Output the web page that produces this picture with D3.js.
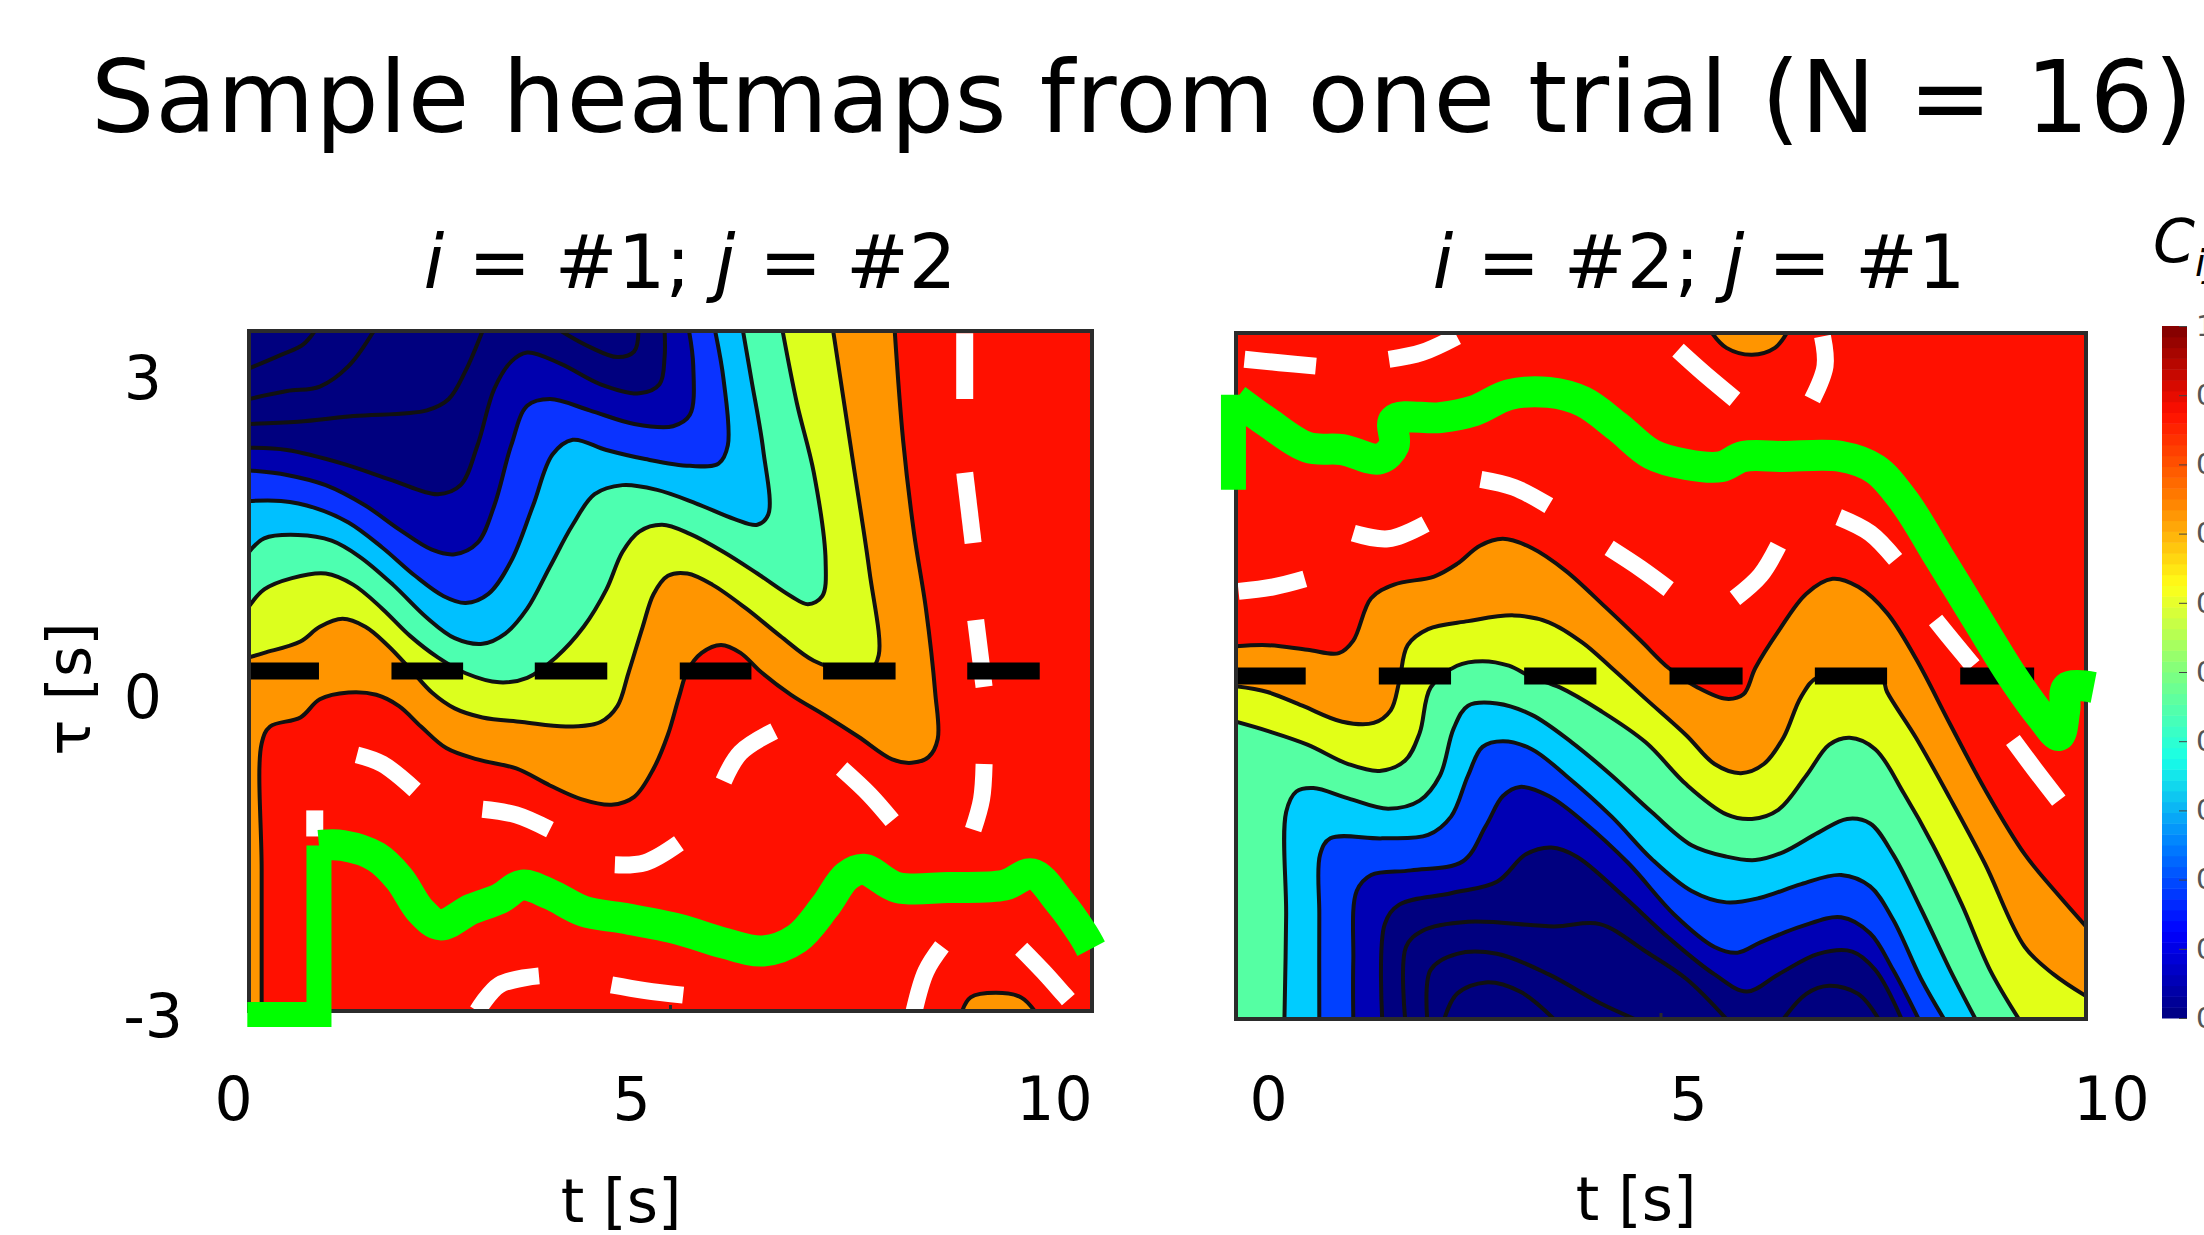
<!DOCTYPE html>
<html>
<head>
<meta charset="utf-8">
<title>Sample heatmaps</title>
<script src="https://cdn.jsdelivr.net/npm/d3@7"></script>
<style>
	html, body { margin: 0; padding: 0; background: #fff; overflow: hidden; }
	text { font-family: "DejaVu Sans", sans-serif; fill: #000; }
</style>
</head>
<body>
<div id="chart"></div>
<script>
// ********** DATA ([t, tau]) **********

const xTicks = [0, 5, 10];
const yTicks = [3, 0, -3];
const colorbarTicks = [0, 0.1, 0.2, 0.3, 0.4, 0.5, 0.6, 0.7, 0.8, 0.9, 1];
const jetStops = ["#00007f", "#0000ff", "#007fff", "#19ffe6", "#7fff7f", "#ffff19", "#ff7f00", "#ff0f00", "#7f0000"];

// left panel, i = #1; j = #2
const orangeA = [[0.15,-3],[0.15,-1.75],[0.15,-0.64],[0.25,-0.49],[0.61,-0.41],[0.84,-0.25],[1.18,-0.19],[1.51,-0.21],[1.78,-0.31],[2.04,-0.49],[2.34,-0.68],[2.71,-0.78],[3.17,-0.86],[3.57,-1.01],[3.94,-1.13],[4.30,-1.18],[4.57,-1.11],[4.80,-0.86],[4.97,-0.56],[5.10,-0.23],[5.20,0],[5.37,0.16],[5.60,0.23],[5.83,0.16],[6.06,0],[6.43,-0.21],[6.83,-0.39],[7.23,-0.58],[7.63,-0.78],[7.86,-0.81],[8.06,-0.76],[8.17,-0.60],[8.14,-0.19],[8.03,0.55],[7.89,1.21],[7.76,2.03],[7.66,3]];
const islandA = [[8.46,-3],[8.56,-2.88],[8.86,-2.84],[9.16,-2.88],[9.32,-3]];
const yellowA = [[0,0.12],[0.18,0.16],[0.61,0.26],[0.84,0.39],[1.11,0.46],[1.38,0.39],[1.64,0.23],[1.91,0.02],[2.17,-0.19],[2.44,-0.33],[2.77,-0.41],[3.24,-0.45],[3.77,-0.49],[4.17,-0.45],[4.37,-0.31],[4.50,-0.02],[4.67,0.39],[4.80,0.68],[4.97,0.84],[5.20,0.86],[5.50,0.76],[5.90,0.55],[6.30,0.31],[6.70,0.09],[7.09,0],[7.36,0],[7.47,0.14],[7.36,0.88],[7.16,1.87],[6.93,3]];
const greenA = [[0,0.57],[0.18,0.72],[0.51,0.82],[0.91,0.86],[1.24,0.76],[1.58,0.55],[1.91,0.31],[2.24,0.12],[2.57,-0.02],[2.97,-0.10],[3.30,-0.06],[3.64,0.12],[3.97,0.39],[4.24,0.72],[4.43,1.05],[4.63,1.23],[4.90,1.29],[5.23,1.21],[5.63,1.05],[6.03,0.86],[6.43,0.66],[6.63,0.59],[6.80,0.66],[6.84,0.97],[6.70,1.75],[6.50,2.36],[6.33,3]];
const cyanA = [[0,1.05],[0.18,1.17],[0.58,1.20],[0.98,1.15],[1.31,1.01],[1.71,0.76],[2.11,0.47],[2.44,0.29],[2.77,0.24],[3.04,0.33],[3.30,0.55],[3.57,0.92],[3.84,1.29],[4.10,1.56],[4.43,1.64],[4.83,1.60],[5.30,1.48],[5.76,1.34],[6.03,1.29],[6.16,1.38],[6.10,1.95],[5.96,2.57],[5.86,3]];
const blueA = [[0,1.50],[0.38,1.50],[0.78,1.44],[1.18,1.31],[1.58,1.09],[1.97,0.84],[2.31,0.66],[2.57,0.60],[2.84,0.68],[3.11,0.97],[3.37,1.46],[3.60,1.91],[3.84,2.04],[4.24,1.95],[4.70,1.87],[5.23,1.81],[5.57,1.83],[5.68,1.99],[5.63,2.57],[5.53,3]];
const darkA = [[0,1.77],[0.45,1.73],[0.91,1.64],[1.38,1.46],[1.78,1.25],[2.17,1.07],[2.44,1.03],[2.71,1.13],[2.91,1.46],[3.11,1.99],[3.30,2.34],[3.57,2.40],[4.04,2.30],[4.57,2.18],[5.03,2.16],[5.23,2.26],[5.27,2.69],[5.22,3]];
const navyA = [[0,1.97],[0.45,1.95],[1.11,1.83],[1.71,1.68],[2.24,1.56],[2.51,1.64],[2.71,1.99],[2.91,2.49],[3.11,2.73],[3.30,2.81],[3.70,2.71],[4.17,2.53],[4.63,2.45],[4.87,2.53],[4.93,2.77],[4.93,3]];
const linesA = [
	[[0,2.18],[0.58,2.20],[1.24,2.25],[2.11,2.30],[2.37,2.40],[2.57,2.65],[2.77,3]],
	[[0,2.40],[0.45,2.47],[0.84,2.51],[1.18,2.69],[1.48,3]],
	[[0,2.67],[0.38,2.79],[0.64,2.88],[0.78,3]],
	[[3.70,3],[4.04,2.86],[4.37,2.77],[4.57,2.82],[4.62,3]]
];
const whiteA = [
	[[0.78,-1.23],[0.78,-1.46]],
	[[1.28,-0.74],[1.58,-0.82],[1.97,-1.05]],
	[[2.77,-1.22],[3.17,-1.27],[3.57,-1.40]],
	[[4.34,-1.71],[4.70,-1.69],[5.10,-1.52]],
	[[5.63,-0.97],[5.83,-0.72],[6.23,-0.53]],
	[[7.03,-0.86],[7.36,-1.09],[7.63,-1.32]],
	[[8.72,-0.82],[8.69,-1.13],[8.59,-1.40]],
	[[8.62,0.45],[8.72,-0.14]],
	[[8.49,1.75],[8.59,1.13]],
	[[8.49,2.98],[8.49,2.40]],
	[[2.71,-3],[2.97,-2.77],[3.44,-2.69]],
	[[4.30,-2.77],[4.70,-2.82],[5.15,-2.86]],
	[[7.89,-3],[8.03,-2.65],[8.22,-2.43]],
	[[9.16,-2.45],[9.42,-2.65],[9.72,-2.90]]
];
const blackA = [[0,0.83],[1.69,2.54],[3.39,4.25],[5.11,5.96],[6.81,7.67],[8.52,9.38]];
const peakStemA = [[-0.02,-3.03],[0.83,-3.03],[0.83,-1.54]];
const peakA = [[0.83,-1.54],[1.11,-1.54],[1.51,-1.64],[1.78,-1.83],[2.04,-2.12],[2.27,-2.24],[2.64,-2.10],[2.97,-2.01],[3.24,-1.89],[3.57,-1.97],[3.97,-2.12],[4.43,-2.18],[5.10,-2.28],[5.63,-2.40],[6.10,-2.47],[6.50,-2.36],[6.83,-2.08],[7.09,-1.81],[7.29,-1.75],[7.69,-1.91],[8.29,-1.91],[8.96,-1.89],[9.29,-1.79],[9.62,-2.04],[9.89,-2.32],[9.99,-2.45]];

// right panel, i = #2; j = #1
const orangeB = [[0,0.26],[0.37,0.27],[0.84,0.23],[1.21,0.20],[1.38,0.31],[1.59,0.68],[1.86,0.80],[2.33,0.87],[2.60,0.98],[2.87,1.14],[3.14,1.20],[3.48,1.12],[3.88,0.92],[4.35,0.60],[4.76,0.31],[5.09,0.07],[5.43,-0.10],[5.77,-0.20],[5.97,-0.16],[6.11,0.07],[6.38,0.39],[6.71,0.72],[7.02,0.85],[7.32,0.78],[7.66,0.55],[8.00,0.15],[8.40,-0.42],[8.81,-0.99],[9.28,-1.56],[9.68,-1.92],[10,-2.19]];
const islandB = [[5.60,3],[5.77,2.87],[6.07,2.81],[6.34,2.87],[6.48,3]];
const yellowB = [[0,-0.09],[0.37,-0.14],[0.78,-0.26],[1.25,-0.40],[1.62,-0.41],[1.82,-0.30],[1.92,-0.05],[2.02,0.27],[2.26,0.41],[2.73,0.48],[3.27,0.53],[3.68,0.47],[4.08,0.29],[4.42,0.07],[4.82,-0.20],[5.30,-0.52],[5.63,-0.77],[5.94,-0.85],[6.21,-0.77],[6.44,-0.54],[6.65,-0.18],[6.85,-0.01],[7.59,-0.01],[7.66,-0.14],[8.00,-0.54],[8.40,-1.07],[8.81,-1.64],[9.28,-2.37],[9.62,-2.61],[10,-2.80]];
const greenB = [[0,-0.40],[0.37,-0.48],[0.84,-0.60],[1.32,-0.77],[1.69,-0.83],[1.99,-0.74],[2.16,-0.50],[2.29,-0.10],[2.60,0.09],[2.90,0.13],[3.21,0.09],[3.48,-0.01],[3.81,-0.10],[4.28,-0.30],[4.82,-0.58],[5.30,-0.95],[5.77,-1.21],[6.07,-1.25],[6.38,-1.17],[6.71,-0.87],[6.98,-0.60],[7.22,-0.54],[7.52,-0.64],[7.86,-1.03],[8.20,-1.48],[8.54,-2.00],[8.87,-2.57],[9.21,-3]];
const cyanB = [[0.57,-3],[0.59,-2.09],[0.59,-1.19],[0.71,-1.01],[0.91,-0.98],[1.32,-1.07],[1.79,-1.16],[2.16,-1.09],[2.40,-0.87],[2.56,-0.46],[2.73,-0.26],[3.07,-0.24],[3.48,-0.34],[3.95,-0.58],[4.42,-0.87],[4.89,-1.19],[5.36,-1.48],[5.77,-1.58],[6.11,-1.61],[6.44,-1.54],[6.85,-1.37],[7.19,-1.25],[7.46,-1.29],[7.73,-1.56],[8.06,-2.04],[8.40,-2.57],[8.70,-3]];
const blueB = [[0.98,-3],[0.98,-2.09],[0.99,-1.56],[1.11,-1.42],[1.72,-1.42],[2.26,-1.39],[2.53,-1.23],[2.73,-0.87],[2.90,-0.62],[3.14,-0.57],[3.48,-0.64],[3.88,-0.87],[4.42,-1.23],[4.89,-1.60],[5.36,-1.88],[5.77,-1.98],[6.17,-1.94],[6.65,-1.82],[7.12,-1.74],[7.46,-1.84],[7.73,-2.13],[8.06,-2.65],[8.33,-3]];
const darkB = [[1.38,-3],[1.38,-2.49],[1.42,-1.88],[1.59,-1.74],[2.06,-1.70],[2.67,-1.62],[2.94,-1.31],[3.14,-1.05],[3.34,-0.97],[3.68,-1.05],[4.08,-1.27],[4.62,-1.64],[5.16,-2.09],[5.63,-2.37],[5.90,-2.42],[6.17,-2.33],[6.65,-2.19],[7.12,-2.11],[7.46,-2.25],[7.73,-2.57],[8.03,-3]];
const navyB = [[1.72,-3],[1.75,-2.17],[1.92,-2.00],[2.53,-1.90],[3.07,-1.80],[3.41,-1.56],[3.71,-1.50],[4.01,-1.58],[4.55,-1.92],[5.09,-2.29],[5.63,-2.61],[6.01,-2.76],[6.38,-2.61],[6.85,-2.43],[7.25,-2.41],[7.52,-2.57],[7.83,-3]];
const linesB = [
	[[1.99,-3],[2.00,-2.37],[2.19,-2.23],[2.73,-2.15],[3.74,-2.19],[4.28,-2.17],[4.82,-2.41],[5.30,-2.65],[5.77,-3]],
	[[6.44,-3],[6.71,-2.78],[6.98,-2.71],[7.32,-2.78],[7.56,-3]],
	[[2.25,-3],[2.29,-2.57],[2.60,-2.43],[3.07,-2.43],[3.68,-2.61],[4.28,-2.86],[4.69,-3]],
	[[2.45,-3],[2.60,-2.78],[2.94,-2.68],[3.34,-2.76],[3.74,-3]]
];
const whiteB = [
	[[0.10,2.77],[0.51,2.74],[0.94,2.71]],
	[[1.80,2.77],[2.19,2.83],[2.60,2.97]],
	[[5.20,2.85],[5.50,2.65],[5.87,2.42]],
	[[6.90,2.97],[6.93,2.71],[6.78,2.42]],
	[[2.88,1.72],[3.27,1.65],[3.68,1.49]],
	[[1.38,1.25],[1.79,1.20],[2.23,1.33]],
	[[4.39,1.12],[4.76,0.94],[5.09,0.76]],
	[[5.87,0.68],[6.17,0.88],[6.38,1.14]],
	[[7.09,1.39],[7.46,1.25],[7.76,1.02]],
	[[0.03,0.74],[0.44,0.78],[0.81,0.85]],
	[[8.23,0.49],[8.47,0.27],[8.67,0.09]],
	[[9.14,-0.56],[9.41,-0.83],[9.68,-1.09]]
];
const blackB = [[0,0.82],[1.68,2.53],[3.39,4.24],[5.10,5.96],[6.81,7.66],[8.52,9.39]];
const peakStemB = [[-0.03,1.63],[-0.03,2.46]];
const peakB = [[0,2.42],[0.37,2.22],[0.84,2.00],[1.25,1.98],[1.69,1.90],[1.86,2.02],[1.86,2.24],[2.40,2.26],[2.80,2.32],[3.21,2.46],[3.68,2.48],[4.08,2.40],[4.49,2.18],[4.89,1.94],[5.30,1.85],[5.70,1.83],[5.97,1.92],[6.44,1.92],[7.12,1.92],[7.52,1.81],[7.86,1.53],[8.27,1.04],[8.74,0.47],[9.14,-0.01],[9.48,-0.36],[9.68,-0.52],[9.75,-0.30],[9.78,-0.10],[10.09,-0.10]];

// ********** DRAWING **********

const width = 2204, height = 1235;

const svg = d3.select("#chart")
	.append("svg")
	.attr("width", width)
	.attr("height", height)
	.style("display", "block");

const renderPanel = (id, p) => {
	// The plot scales fill the frame; the tick labels in the original are pasted on
	// slightly off the frame, so they get their own scale
	const x = d3.scaleLinear().domain([0, 10]).range([p.left, p.right]);
	const y = d3.scaleLinear().domain([-3, 3]).range([p.bottom, p.top]);
	const line = d3.line().x(d => x(d[0])).y(d => y(d[1])).curve(d3.curveCatmullRom.alpha(0.5));
	const straight = d3.line().x(d => x(d[0])).y(d => y(d[1]));

	svg.append("clipPath").attr("id", id)
		.append("rect")
		.attr("x", p.left).attr("y", p.top)
		.attr("width", p.right - p.left).attr("height", p.bottom - p.top);

	const g = svg.append("g").attr("clip-path", `url(#${id})`);

	g.append("rect")
		.attr("x", p.left).attr("y", p.top)
		.attr("width", p.right - p.left).attr("height", p.bottom - p.top)
		.attr("fill", "#ff1000");

	// filled bands, outermost first
	p.bands.forEach((b) => {
		const tail = b.corners.map(c => `L${x(c[0])},${y(c[1])}`).join("");
		g.append("path").attr("d", line(b.pts) + tail + "Z").attr("fill", b.fill);
		g.append("path").attr("d", line(b.pts))
			.attr("fill", "none").attr("stroke", "#111").attr("stroke-width", 4);
	});

	g.selectAll("path.level")
		.data(p.lines)
		.enter()
		.append("path")
		.attr("class", "level")
		.attr("d", line)
		.attr("fill", "none")
		.attr("stroke", "#111")
		.attr("stroke-width", 4);

	g.selectAll("path.white")
		.data(p.white)
		.enter()
		.append("path")
		.attr("class", "white")
		.attr("d", line)
		.attr("fill", "none")
		.attr("stroke", "#fff")
		.attr("stroke-width", 17);

	g.selectAll("line.zero")
		.data(p.black)
		.enter()
		.append("line")
		.attr("class", "zero")
		.attr("x1", d => x(d[0]))
		.attr("x2", d => x(d[1]))
		.attr("y1", y(0))
		.attr("y2", y(0))
		.attr("stroke", "#000")
		.attr("stroke-width", 17);

	// frame with its small ticks
	svg.append("rect")
		.attr("x", p.left).attr("y", p.top)
		.attr("width", p.right - p.left).attr("height", p.bottom - p.top)
		.attr("fill", "none")
		.attr("stroke", "#2b2b2b")
		.attr("stroke-width", 4);

	svg.selectAll(`line.tick-${id}`)
		.data(xTicks.slice(1, 2))
		.enter()
		.append("line")
		.attr("class", `tick-${id}`)
		.attr("x1", d => x(d))
		.attr("x2", d => x(d))
		.attr("y1", p.bottom)
		.attr("y2", p.bottom - 6)
		.attr("stroke", "#2b2b2b")
		.attr("stroke-width", 3);

	// green ridge sits on top of everything and runs over the frame
	svg.append("path").attr("d", straight(p.stem))
		.attr("fill", "none").attr("stroke", "#00ff00").attr("stroke-width", 25);
	svg.append("path").attr("d", line(p.ridge))
		.attr("fill", "none").attr("stroke", "#00ff00").attr("stroke-width", 31)
		.attr("stroke-linejoin", "round");

	// tick labels
	const labelX = d3.scaleLinear().domain(xTicks).range(p.labelX);
	const xAxis = svg.append("g")
		.attr("transform", "translate(0,1120)")
		.call(d3.axisBottom(labelX).tickValues(xTicks).tickSize(0).tickPadding(0));
	xAxis.select(".domain").remove();
	xAxis.selectAll("text")
		.attr("dy", 0)
		.attr("y", 0)
		.style("font-family", '"DejaVu Sans", sans-serif')
		.style("font-size", "60px")
		.style("fill", "#000");

	svg.append("text")
		.attr("x", p.xTitleX)
		.attr("y", p.xTitleY)
		.attr("text-anchor", "middle")
		.style("font-size", "60px")
		.text("t [s]");

	svg.append("text")
		.attr("x", p.titleX)
		.attr("y", 288)
		.attr("text-anchor", "middle")
		.style("font-size", "75px")
		.call(t => {
			t.append("tspan").style("font-style", "italic").text("i");
			t.append("tspan").text(` = #${p.iNum}; `);
			t.append("tspan").style("font-style", "italic").text("j");
			t.append("tspan").text(` = #${p.jNum}`);
		});
};

svg.append("text")
	.attr("x", 91)
	.attr("y", 132)
	.attr("textLength", 2102)
	.attr("lengthAdjust", "spacing")
	.style("font-size", "100px")
	.text("Sample heatmaps from one trial (N = 16)");

renderPanel("clip-a", {
	left: 249, right: 1092, top: 331, bottom: 1011,
	bands: [
		{ pts: orangeA, corners: [[0, 3], [0, -3]], fill: "#ff9500" },
		{ pts: islandA, corners: [], fill: "#ff9500" },
		{ pts: yellowA, corners: [[0, 3]], fill: "#dcff1e" },
		{ pts: greenA, corners: [[0, 3]], fill: "#4dffb0" },
		{ pts: cyanA, corners: [[0, 3]], fill: "#00c0ff" },
		{ pts: blueA, corners: [[0, 3]], fill: "#0a33ff" },
		{ pts: darkA, corners: [[0, 3]], fill: "#0000ae" },
		{ pts: navyA, corners: [[0, 3]], fill: "#00007f" }
	],
	lines: linesA, white: whiteA, black: blackA, stem: peakStemA, ridge: peakA,
	labelX: [233, 631, 1054],
	xTitleX: 621, xTitleY: 1222,
	titleX: 690, iNum: 1, jNum: 2
});

renderPanel("clip-b", {
	left: 1236, right: 2086, top: 333, bottom: 1019,
	bands: [
		{ pts: orangeB, corners: [[10, -3], [0, -3]], fill: "#ff9500" },
		{ pts: islandB, corners: [], fill: "#ff9500" },
		{ pts: yellowB, corners: [[10, -3], [0, -3]], fill: "#e2ff17" },
		{ pts: greenB, corners: [[0, -3]], fill: "#55ffa3" },
		{ pts: cyanB, corners: [], fill: "#00ccff" },
		{ pts: blueB, corners: [], fill: "#0040ff" },
		{ pts: darkB, corners: [], fill: "#0000b4" },
		{ pts: navyB, corners: [], fill: "#00007f" }
	],
	lines: linesB, white: whiteB, black: blackB, stem: peakStemB, ridge: peakB,
	labelX: [1268, 1688, 2111],
	xTitleX: 1636, xTitleY: 1220,
	titleX: 1699, iNum: 2, jNum: 1
});

// tau tick labels, left panel only
const labelY = d3.scaleLinear().domain([-3, 3]).range([1036, 398]);
const yAxis = svg.append("g")
	.attr("transform", "translate(168,0)")
	.call(d3.axisLeft(labelY).tickValues(yTicks).tickSize(0).tickPadding(0).tickFormat(d => String(d)));
yAxis.select(".domain").remove();
yAxis.selectAll("text")
	.attr("dy", 0)
	.attr("x", d => d < 0 ? 15 : -6)
	.style("font-family", '"DejaVu Sans", sans-serif')
	.style("font-size", "60px")
	.style("fill", "#000");

svg.append("text")
	.attr("transform", "translate(90,689) rotate(-90)")
	.attr("text-anchor", "middle")
	.style("font-size", "60px")
	.text("τ [s]");

// ********** COLOURBAR **********

const jet = d3.scaleLinear()
	.domain(d3.range(jetStops.length).map(i => i / (jetStops.length - 1)))
	.range(jetStops);
const barY = d3.scaleLinear().domain([0, 1]).range([1018, 326]);
const steps = d3.range(64);

svg.selectAll("rect.step")
	.data(steps)
	.enter()
	.append("rect")
	.attr("class", "step")
	.attr("x", 2162)
	.attr("width", 25)
	.attr("y", d => barY((d + 1) / 64))
	.attr("height", d => barY(d / 64) - barY((d + 1) / 64) + 0.5)
	.attr("fill", d => jet((d + 0.5) / 64));

const barAxis = svg.append("g")
	.attr("transform", "translate(2187,0)")
	.call(d3.axisRight(barY).tickValues(colorbarTicks).tickSize(-8).tickPadding(9)
		.tickFormat(d => d === 1 ? "1" : d3.format(".1f")(d)));
barAxis.select(".domain").remove();
barAxis.selectAll("line").attr("stroke", "#444");
barAxis.selectAll("text")
	.style("font-family", '"DejaVu Sans", sans-serif')
	.style("font-size", "29px")
	.style("fill", "#555");

svg.append("text")
	.attr("x", 2153)
	.attr("y", 262)
	.style("font-size", "60px")
	.style("font-style", "italic")
	.call(t => {
		t.append("tspan").text("C");
		t.append("tspan").attr("dy", 14).style("font-size", "38px").text("ij");
	});
</script>
</body>
</html>
